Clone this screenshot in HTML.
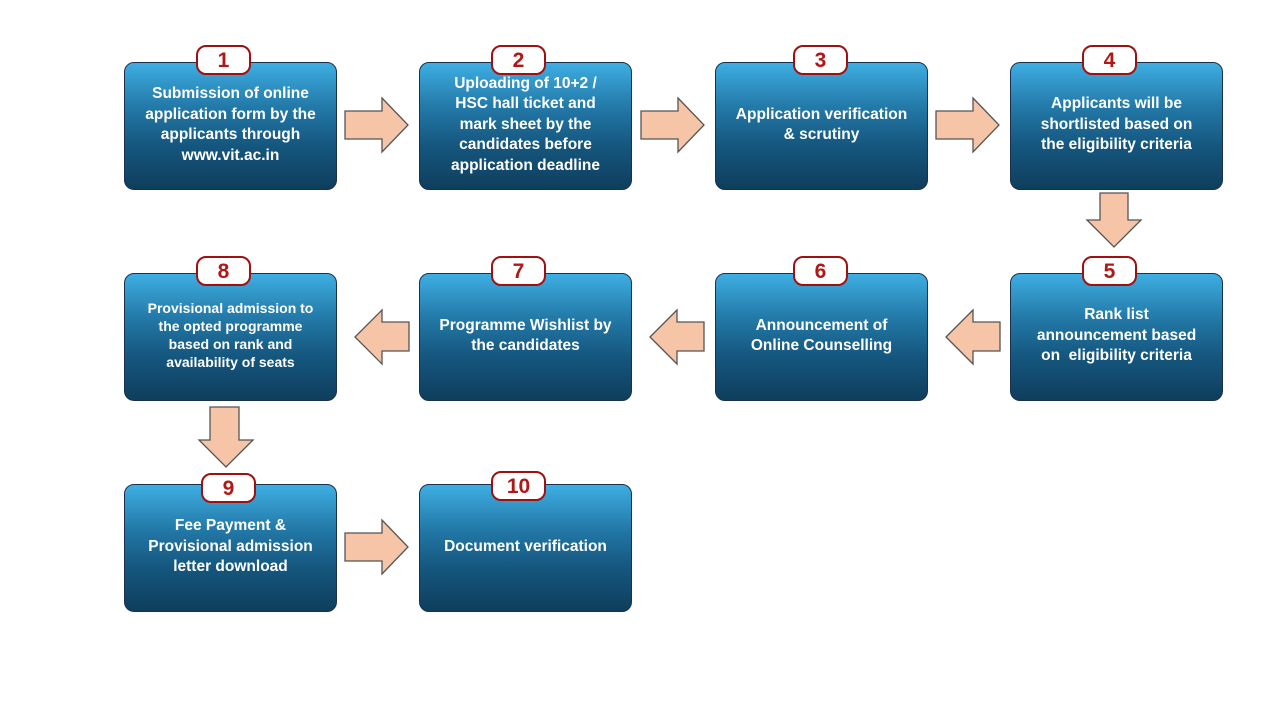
<!DOCTYPE html>
<html><head><style>
body{margin:0;width:1280px;height:720px;background:#fff;position:relative;overflow:hidden;font-family:"Liberation Sans",sans-serif}
.b{position:absolute;width:213px;height:128px;border:1.5px solid #1b2f4e;border-radius:10px;background:linear-gradient(#3eaee2 0%,#2379a8 35%,#15577f 65%,#0f3e5d 100%);color:#fff;font-weight:bold;font-size:15.5px;line-height:20.5px;text-align:center;display:flex;align-items:center;justify-content:center;box-sizing:border-box;padding:0 4px 2px;white-space:nowrap}
.n{position:absolute;width:55px;height:30px;border:2px solid #a01010;border-radius:10px;background:#fff;color:#b01818;font-weight:bold;font-size:21px;text-align:center;line-height:27px;box-sizing:border-box}
svg{position:absolute;left:0;top:0}
</style></head><body>
<svg width="1280" height="720">
<g fill="#f6c4a6" stroke="#555" stroke-width="1.3">
<polygon points="345,111 382,111 382,98 408,125 382,152 382,139 345,139"/>
<polygon points="641,111 678,111 678,98 704,125 678,152 678,139 641,139"/>
<polygon points="936,111 973,111 973,98 999,125 973,152 973,139 936,139"/>
<polygon points="1100,193 1128,193 1128,220 1141,220 1114,247 1087,220 1100,220"/>
<polygon points="1000,322 973,322 973,310 946,337 973,364 973,351 1000,351"/>
<polygon points="704,322 677,322 677,310 650,337 677,364 677,351 704,351"/>
<polygon points="409,322 382,322 382,310 355,337 382,364 382,351 409,351"/>
<polygon points="210,407 239,407 239,440 253,440 226,467 199,440 210,440"/>
<polygon points="345,533 382,533 382,520 408,547 382,574 382,561 345,561"/>
</g></svg>
<div class="b" style="left:124px;top:62px">Submission of online<br>application form by the<br>applicants through<br>www.vit.ac.in</div>
<div class="b" style="left:419px;top:62px">Uploading of 10+2 /<br>HSC hall ticket and<br>mark sheet by the<br>candidates before<br>application deadline</div>
<div class="b" style="left:715px;top:62px">Application verification<br>&amp; scrutiny</div>
<div class="b" style="left:1010px;top:62px">Applicants will be<br>shortlisted based on<br>the eligibility criteria</div>
<div class="b" style="left:1010px;top:273px">Rank list<br>announcement based<br>on&nbsp; eligibility criteria</div>
<div class="b" style="left:715px;top:273px">Announcement of<br>Online Counselling</div>
<div class="b" style="left:419px;top:273px">Programme Wishlist by<br>the candidates</div>
<div class="b" style="left:124px;top:273px;font-size:14px;line-height:18px;padding:0 4px 5px">Provisional admission to<br>the opted programme<br>based on rank and<br>availability of seats</div>
<div class="b" style="left:124px;top:484px">Fee Payment &amp;<br>Provisional admission<br>letter download</div>
<div class="b" style="left:419px;top:484px">Document verification</div>
<div class="n" style="left:196px;top:45px">1</div>
<div class="n" style="left:491px;top:45px">2</div>
<div class="n" style="left:793px;top:45px">3</div>
<div class="n" style="left:1082px;top:45px">4</div>
<div class="n" style="left:1082px;top:256px">5</div>
<div class="n" style="left:793px;top:256px">6</div>
<div class="n" style="left:491px;top:256px">7</div>
<div class="n" style="left:196px;top:256px">8</div>
<div class="n" style="left:201px;top:473px">9</div>
<div class="n" style="left:491px;top:471px">10</div>
</body></html>
